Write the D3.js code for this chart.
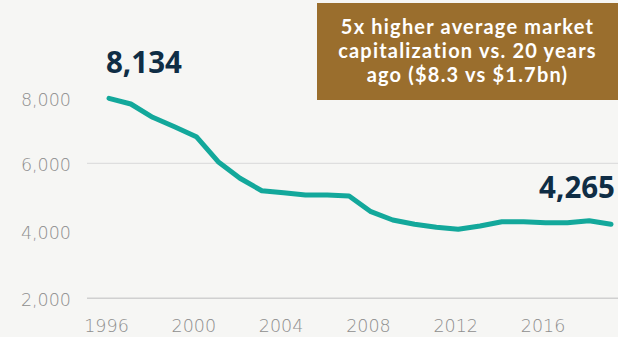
<!DOCTYPE html>
<html>
<head>
<meta charset="utf-8">
<script src="https://cdn.jsdelivr.net/npm/d3@7"></script>
<style>
  html, body { margin: 0; padding: 0; background: #f6f6f4; }
  svg { display: block; }
</style>
</head>
<body>
<script>
const years = d3.range(1996, 2020);
const companies = [7926, 7757, 7363, 7084, 6788, 6047, 5556, 5188, 5129, 5061, 5061, 5031,
  4566, 4320, 4193, 4104, 4044, 4142, 4270, 4270, 4240, 4240, 4299, 4193];
const yTicks = [2000, 4000, 6000, 8000];
const gridValues = [2000, 6000];
const xTicks = [1996, 2000, 2004, 2008, 2012, 2016];
const startLabel = "8,134";
const endLabel = "4,265";
const calloutLines = ["5x higher average market", "capitalization vs. 20 years", "ago ($8.3 vs $1.7bn)"];

const width = 618;
const height = 337;
const svg = d3.select('body').append('svg').attr('width', width).attr('height', height);

svg.append('rect').attr('width', width).attr('height', height).attr('fill', '#f6f6f4');

const x = d3.scaleLinear().domain([1996, 2019]).range([109, 611]);
const y = d3.scaleLinear().domain([2000, 8000]).range([298.3, 95.8]);

// gridlines (only some are drawn in the original)
svg.selectAll('line.grid').data(gridValues).enter().append('line')
  .attr('class', 'grid')
  .attr('x1', 87).attr('x2', width)
  .attr('y1', d => y(d)).attr('y2', d => y(d))
  .attr('stroke', d => d === 2000 ? '#d0d0d0' : '#dedede')
  .attr('stroke-width', d => d === 2000 ? 1.6 : 1.2);

const axisFont = '"DejaVu Sans", sans-serif';

const yAxis = d3.axisLeft(y).tickValues(yTicks).tickSize(0).tickPadding(0).tickFormat(d3.format(','));
svg.append('g').attr('transform', 'translate(71,0)').call(yAxis)
  .call(g => g.select('.domain').remove())
  .selectAll('text')
  .attr('fill', '#8e8e8e')
  .attr('font-family', axisFont)
  .attr('font-weight', 200)
  .attr('font-size', 17.5)
  .attr('dy', d => d === 8000 ? '0.55em' : '0.42em');

const xAxis = d3.axisBottom(x).tickValues(xTicks).tickSize(0).tickPadding(0).tickFormat(d3.format('d'));
svg.append('g').attr('transform', 'translate(-3,319)').call(xAxis)
  .call(g => g.select('.domain').remove())
  .selectAll('text')
  .attr('fill', '#8e8e8e')
  .attr('font-family', axisFont)
  .attr('font-weight', 200)
  .attr('font-size', 17.5)
  .attr('dy', '0.72em');

const line = d3.line().x((d, i) => x(years[i])).y(d => y(d));
svg.append('path').datum(companies)
  .attr('d', line)
  .attr('fill', 'none')
  .attr('stroke', '#13a89b')
  .attr('stroke-width', 5)
  .attr('stroke-linejoin', 'round')
  .attr('stroke-linecap', 'round');

const labelFont = '"Noto Sans", Inter, sans-serif';
svg.append('text')
  .attr('x', x(1996) - 3).attr('y', y(companies[0]) - 25)
  .attr('fill', '#0f2d45')
  .attr('font-family', labelFont).attr('font-weight', 700).attr('font-size', 29.5)
  .text(startLabel);
svg.append('text')
  .attr('x', x(2019) + 4).attr('y', y(companies[companies.length - 1]) - 26)
  .attr('text-anchor', 'end')
  .attr('fill', '#0f2d45')
  .attr('font-family', labelFont).attr('font-weight', 700).attr('font-size', 29.5)
  .text(endLabel);

// callout box
svg.append('rect')
  .attr('x', 317).attr('y', 3).attr('width', width - 317).attr('height', 97)
  .attr('fill', '#9a6e2d');
svg.append('g').selectAll('text').data(calloutLines).enter().append('text')
  .attr('x', 467.5).attr('y', (d, i) => 34 + i * 24)
  .attr('text-anchor', 'middle')
  .attr('fill', '#ffffff')
  .attr('font-family', 'Lato, sans-serif')
  .attr('font-weight', 700)
  .attr('font-size', 20)
  .attr('letter-spacing', 1.2)
  .text(d => d);
</script>
</body>
</html>
